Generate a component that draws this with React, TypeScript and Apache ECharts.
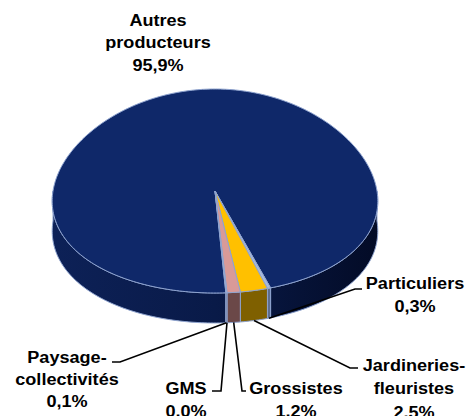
import React, { useEffect, useRef } from 'react';
import * as echarts from 'echarts';

// ---- data ----
const categories = ['Autres producteurs', 'Particuliers', 'Jardineries-fleuristes', 'Grossistes', 'GMS', 'Paysage-collectivités'];
const labelLines = [['Autres', 'producteurs'], ['Particuliers'], ['Jardineries-', 'fleuristes'], ['Grossistes'], ['GMS'], ['Paysage-', 'collectivités']];
const shares = [95.9, 0.3, 2.5, 1.2, 0.0, 0.1];

// ---- styles ----
const topColors = ['#0f2869', '#a9bbdd', '#ffc000', '#d99a98', '#9c6b6b', '#b8c6e4'];
const sideColors: any[] = [
  { type: 'linear', x: 52, y: 0, x2: 379, y2: 0, global: true, colorStops: [
    { offset: 0, color: '#0d2157' }, { offset: 0.5, color: '#091a48' }, { offset: 1, color: '#030b26' } ] },
  '#5e6e90', '#7f6000', '#6b4848', '#4a3030', '#5f6d8c'
];
const EDGE = '#8ea3cf';

// ---- layout ----
const CX = 215, CY = 191, RX = 162, RY = 102, DEPTH = 30, START = 273.5, PERSP = 0.1;
const labelLayout: { x: number; y: number; lh: number; elbow?: number[]; end?: number[] }[] = [
  { x: 158, y: 43, lh: 22.5 },
  { x: 415, y: 295.5, lh: 23, elbow: [355, 289], end: [362, 289] },
  { x: 414, y: 389, lh: 23.5, elbow: [350, 368], end: [358, 368] },
  { x: 296, y: 400, lh: 23, elbow: [242, 391], end: [246, 391] },
  { x: 186, y: 400, lh: 23, elbow: [221, 391], end: [212, 391] },
  { x: 67, y: 380, lh: 22, elbow: [120, 362], end: [112, 362] },
];

const total = shares.reduce((a, b) => a + b, 0);
const angles: number[][] = [];
{
  let s = START;
  shares.forEach((v) => {
    const e = s - (360 * v) / total;
    angles.push([s, e]);
    s = e;
  });
}

const pt = (deg: number, dy = 0) => {
  const a = (deg * Math.PI) / 180;
  const sn = Math.sin(a);
  return [CX + RX * Math.cos(a) * (1 - PERSP * sn), CY - RY * sn + dy];
};

const arcPts = (from: number, to: number, dy = 0) => {
  const n = Math.max(2, Math.ceil(Math.abs(to - from)));
  const out: number[][] = [];
  for (let k = 0; k <= n; k++) out.push(pt(from + ((to - from) * k) / n, dy));
  return out;
};

const empty = { type: 'group', children: [] };

export default function App() {
  const ref = useRef<HTMLDivElement>(null);
  useEffect(() => {
    const chart = echarts.init(ref.current!, null, { renderer: 'svg' });
    const data = shares.map((v, i) => ({ name: categories[i], value: v }));
    chart.setOption({
      animation: false,
      backgroundColor: '#ffffff',
      series: [
        {
          type: 'custom', coordinateSystem: 'none', silent: true, z: 1, data,
          renderItem: (params: any) => {
            const i = params.dataIndex;
            const [s, e] = angles[i];
            const children: any[] = [];
            if (s - e > 1e-6) {
              for (const k of [-360, 0, 360]) {
                const lo = Math.max(e, 180 + k), hi = Math.min(s, 360 + k);
                if (hi - lo > 1e-6) {
                  const top = arcPts(lo, hi);
                  const bottom = arcPts(hi, lo, DEPTH);
                  children.push({ type: 'polygon', shape: { points: top.concat(bottom) },
                    style: { fill: sideColors[i], stroke: EDGE, lineWidth: 1 } });
                }
              }
            }
            return { type: 'group', children };
          },
        },
        {
          type: 'custom', coordinateSystem: 'none', silent: true, z: 2, data,
          renderItem: (params: any) => {
            const i = params.dataIndex;
            const [s, e] = angles[i];
            if (s - e < 1e-6) return empty;
            const pts = [[CX, CY]].concat(arcPts(e, s));
            return { type: 'polygon', shape: { points: pts },
              style: { fill: topColors[i], stroke: EDGE, lineWidth: 1 } };
          },
        },
        {
          type: 'custom', coordinateSystem: 'none', silent: true, z: 3, data,
          renderItem: (params: any, api: any) => {
            const i = params.dataIndex;
            const v = api.value(0);
            const [s, e] = angles[i];
            const L = labelLayout[i];
            const children: any[] = [];
            if (L.elbow && L.end) {
              const anchor = pt((s + e) / 2, DEPTH);
              children.push({ type: 'polyline', shape: { points: [anchor, L.elbow, L.end] },
                style: { stroke: '#000000', lineWidth: 1.6, fill: null } });
            }
            const txt = labelLines[i].join('\n') + '\n' + v.toFixed(1).replace('.', ',') + '%';
            children.push({ type: 'text', x: L.x, y: L.y, scaleX: 1.13,
              style: { text: txt, x: 0, y: 0, align: 'center', verticalAlign: 'middle',
                fontSize: 16, fontWeight: 'bold', fontFamily: '"Liberation Sans", Arial, sans-serif',
                lineHeight: L.lh, fill: '#000000' } });
            return { type: 'group', children };
          },
        },
      ],
    });
    return () => chart.dispose();
  }, []);
  return <div ref={ref} style={{ position: 'fixed', left: 0, top: 0, width: 471, height: 416 }} />;
}
